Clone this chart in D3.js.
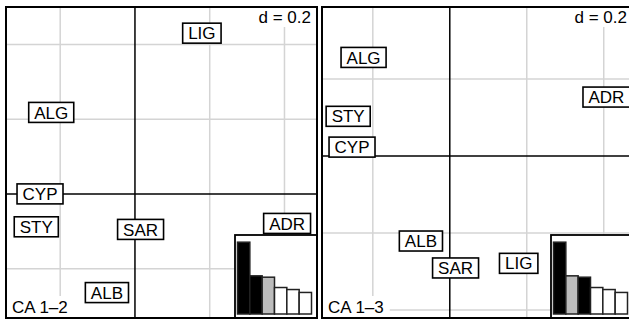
<!DOCTYPE html>
<html>
<head>
<meta charset="utf-8">
<script src="https://cdn.jsdelivr.net/npm/d3@7"></script>
<style>
  body { margin: 0; background: #fff; }
  svg { display: block; font-family: "Liberation Sans", Arial, sans-serif; }
</style>
</head>
<body>
<div id="chart"></div>
<script>
// row scores of the correspondence analysis
const sites = ['ALG', 'ADR', 'ALB', 'CYP', 'LIG', 'SAR', 'STY']
const axis1 = [-0.224, 0.407, -0.075, -0.254, 0.179, 0.015, -0.264]
const axis2 = [0.218, -0.079, -0.264, 0.000, 0.430, -0.095, -0.088]
const axis3 = [0.256, 0.153, -0.221, 0.023, -0.279, -0.291, 0.103]
const eigen = [0.320, 0.170, 0.164, 0.118, 0.109, 0.096]

const W = 629, H = 322
const svg = d3.select('#chart').append('svg')
  .attr('width', W).attr('height', H)

const panels = [
  {x0: 6, title: 'CA 1\u20132', xs: axis1, ys: axis2, xdom: [-0.345, 0.487], ydom: [-0.332, 0.5], sel: [0, 1], grey: 2},
  {x0: 322, title: 'CA 1\u20133', xs: axis1, ys: axis3, xdom: [-0.332, 0.476], ydom: [-0.421, 0.387], sel: [0, 2], grey: 1}
]
const panelTop = 7, size = 311
const fs = 17

panels.forEach(p => {
  let left = p.x0, right = p.x0 + size, ptop = panelTop, bottom = panelTop + size
  let x = d3.scaleLinear().domain(p.xdom).range([left, right])
  let y = d3.scaleLinear().domain(p.ydom).range([bottom, ptop])
  let g = svg.append('g')

  g.append('rect')
    .attr('x', left).attr('y', ptop).attr('width', size).attr('height', size)
    .attr('fill', '#fff')

  // grid, d = 0.2
  let steps = d3.range(-0.8, 0.81, 0.2).map(v => Math.round(v * 10) / 10)
  g.selectAll('line.gx').data(steps.filter(v => v > p.xdom[0] && v < p.xdom[1] && v !== 0))
    .enter().append('line')
    .attr('x1', d => x(d)).attr('x2', d => x(d))
    .attr('y1', ptop).attr('y2', bottom)
    .attr('stroke', '#d4d4d4').attr('stroke-width', 1.5)
  g.selectAll('line.gy').data(steps.filter(v => v > p.ydom[0] && v < p.ydom[1] && v !== 0))
    .enter().append('line')
    .attr('y1', d => y(d)).attr('y2', d => y(d))
    .attr('x1', left).attr('x2', right)
    .attr('stroke', '#d4d4d4').attr('stroke-width', 1.5)

  // d = 0.2 label
  let dText = g.append('text')
    .attr('x', right - 6).attr('y', ptop + 16)
    .attr('text-anchor', 'end').attr('font-size', fs)
    .text('d = 0.2')
  let dw = dText.node().getComputedTextLength()
  g.insert('rect', () => dText.node())
    .attr('x', right - 6 - dw - 4).attr('y', ptop + 1)
    .attr('width', dw + 9).attr('height', 19)
    .attr('fill', '#fff')

  // axes through origin
  g.append('line')
    .attr('x1', x(0)).attr('x2', x(0)).attr('y1', ptop).attr('y2', bottom)
    .attr('stroke', '#000').attr('stroke-width', 1.5)
  g.append('line')
    .attr('y1', y(0)).attr('y2', y(0)).attr('x1', left).attr('x2', right)
    .attr('stroke', '#000').attr('stroke-width', 1.5)

  // title bottom-left
  let tText = g.append('text')
    .attr('x', left + 6).attr('y', bottom - 5)
    .attr('font-size', fs)
    .text(p.title)
  let tw = tText.node().getComputedTextLength()
  g.insert('rect', () => tText.node())
    .attr('x', left + 1).attr('y', bottom - 22)
    .attr('width', tw + 11).attr('height', 21)
    .attr('fill', '#fff')

  // labels
  let labs = g.selectAll('g.lab').data(sites.map((s, i) => ({name: s, x: p.xs[i], y: p.ys[i]})))
    .enter().append('g').attr('class', 'lab')
    .attr('transform', d => `translate(${x(d.x)}, ${y(d.y)})`)
  labs.append('rect')
  labs.append('text')
    .attr('text-anchor', 'middle').attr('font-size', fs)
    .attr('y', fs * 0.358)
    .text(d => d.name)
  labs.each(function () {
    let node = d3.select(this)
    let w = node.select('text').node().getComputedTextLength() + 11
    node.select('rect')
      .attr('x', -w / 2).attr('y', -10).attr('width', w).attr('height', 20)
      .attr('fill', '#fff').attr('stroke', '#000').attr('stroke-width', 1.6)
  })

  // eigenvalue inset
  let iw = 82, ih = 83
  let il = right - iw, it = bottom - ih
  g.append('rect')
    .attr('x', il).attr('y', it).attr('width', iw).attr('height', ih)
    .attr('fill', '#fff').attr('stroke', '#000').attr('stroke-width', 1.8)
  let bx = d3.scaleBand().domain(d3.range(eigen.length)).range([il + 2.5, right - 5.5])
  let by = d3.scaleLinear().domain([0, d3.max(eigen) * 1.1]).range([bottom - 4, it])
  g.selectAll('rect.bar').data(eigen)
    .enter().append('rect')
    .attr('class', 'bar')
    .attr('x', (d, i) => bx(i)).attr('width', bx.bandwidth())
    .attr('y', d => by(d)).attr('height', d => by(0) - by(d))
    .attr('fill', (d, i) => p.sel.includes(i) ? '#000' : (i === p.grey ? '#bcbcbc' : '#fff'))
    .attr('stroke', '#222').attr('stroke-width', 1.5)

  // frame
  g.append('rect')
    .attr('x', left).attr('y', ptop).attr('width', size).attr('height', size)
    .attr('fill', 'none').attr('stroke', '#000').attr('stroke-width', 2)
})
</script>
</body>
</html>
